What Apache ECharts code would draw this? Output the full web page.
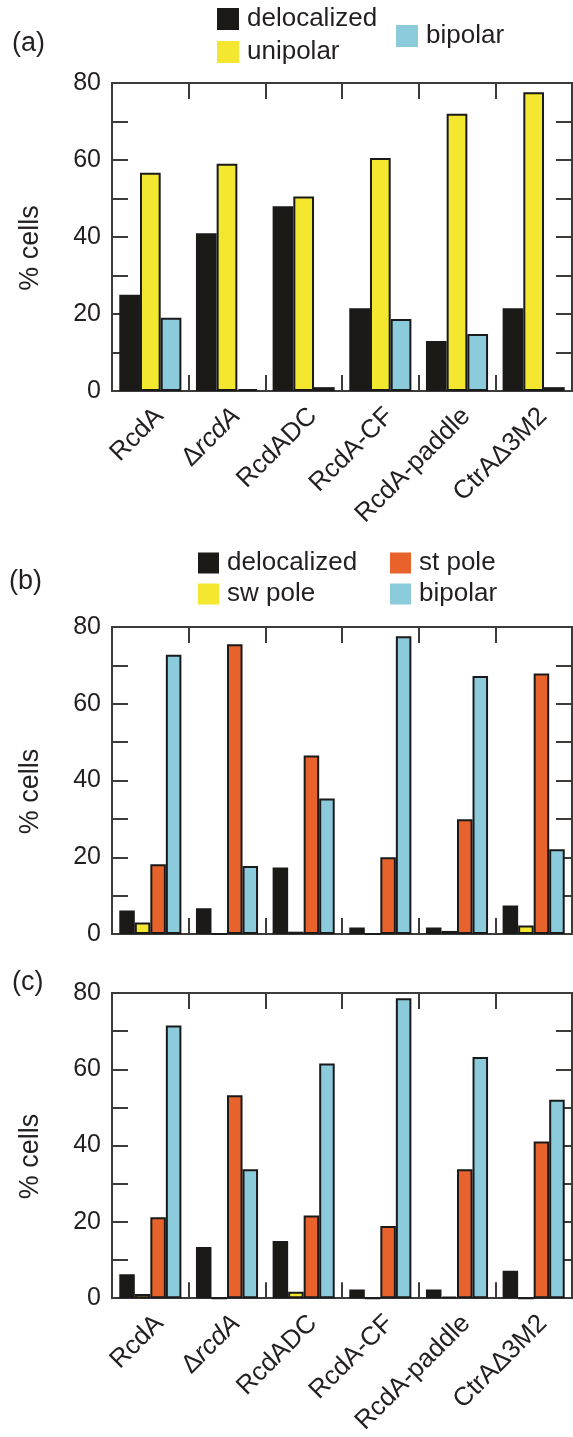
<!DOCTYPE html>
<html>
<head>
<meta charset="utf-8">
<script src="https://cdn.jsdelivr.net/npm/echarts@6/dist/echarts.min.js"></script>
<style>
  html, body { margin: 0; padding: 0; background: #fff; }
  #chart { width: 573px; height: 1437px; }
</style>
</head>
<body>
<div id="chart"></div>
<script>
const categories = ['RcdA', 'ΔrcdA', 'RcdADC', 'RcdA-CF', 'RcdA-paddle', 'CtrAΔ3M2'];
const yTicks = [0, 20, 40, 60, 80];

// panel (a)
const aDelocalized = [25, 41, 48, 21.5, 13, 21.5];
const aUnipolar = [56.7, 59, 50.5, 60.5, 72, 77.6];
const aBipolar = [19, 0.5, 1, 18.7, 14.8, 1];

// panel (b)
const bDelocalized = [6.1, 6.7, 17.3, 1.7, 1.7, 7.4];
const bSwPole = [3, 0, 0.6, 0, 0.8, 2.2];
const bStPole = [18.2, 75.5, 46.5, 20, 29.9, 67.9];
const bBipolar = [72.8, 17.7, 35.3, 77.6, 67.2, 22.1];

// panel (c)
const cDelocalized = [6.3, 13.4, 15, 2.3, 2.3, 7.2];
const cSwPole = [1.1, 0, 1.7, 0, 0.4, 0];
const cStPole = [21.2, 53.2, 21.7, 18.9, 33.8, 41.1];
const cBipolar = [71.5, 33.8, 61.5, 78.6, 63.2, 52];

const FONT = '"Liberation Sans", Arial, sans-serif';
const TXT = '#231f20';
const AX = '#3d3a3a';
const colors = {
    'delocalized': '#1c1a17',
    'unipolar': '#f4e72f',
    'sw pole': '#f4e72f',
    'st pole': '#e8632c',
    'bipolar': '#8ccbdc'
};

const grids = [
    {left: 112, top: 83, width: 460, height: 308},
    {left: 112, top: 627, width: 460, height: 307},
    {left: 112, top: 993, width: 460, height: 308}
];

const line = () => ({show: true, onZero: false, lineStyle: {color: AX, width: 2}});
const tick = () => ({show: true, inside: true, interval: 0, length: 16, lineStyle: {color: AX, width: 2}});
const xAxis = [];
const yAxis = [];
grids.forEach((g, i) => {
    const showLabels = i !== 1;
    xAxis.push({
        type: 'category', gridIndex: i, data: categories, position: 'bottom',
        axisLine: line(), axisTick: tick(),
        axisLabel: {
            show: showLabels, interval: 0, rotate: 45, margin: 12,
            verticalAlign: 'top',
            fontSize: 26, fontFamily: FONT, color: TXT,
            formatter: v => v === 'ΔrcdA' ? '{n|Δ}{i|rcdA}' : v,
            rich: {
                n: {fontSize: 26, fontFamily: FONT, color: TXT},
                i: {fontSize: 26, fontFamily: FONT, color: TXT, fontStyle: 'italic'}
            }
        }
    });
    xAxis.push({
        type: 'category', gridIndex: i, data: categories, position: 'top',
        axisLine: line(), axisTick: tick(),
        axisLabel: {show: false, interval: 0}
    });
    yAxis.push({
        type: 'value', gridIndex: i, min: 0, max: 80, interval: 10, position: 'left',
        axisLine: line(), splitLine: {show: false}, axisTick: tick(),
        axisLabel: {
            margin: 11, fontSize: 25, fontFamily: FONT, color: TXT,
            formatter: v => yTicks.includes(v) ? String(v) : ''
        },
        name: '% cells', nameLocation: 'middle', nameGap: 68,
        nameTextStyle: {fontSize: 27, fontFamily: FONT, color: TXT, padding: [0, 22, 0, 0]}
    });
    yAxis.push({
        type: 'value', gridIndex: i, min: 0, max: 80, interval: 10, position: 'right',
        axisLine: line(), splitLine: {show: false}, axisTick: tick(),
        axisLabel: {show: false}
    });
});

function bar(name, data, panel) {
    return {
        name, type: 'bar', data,
        xAxisIndex: panel * 2, yAxisIndex: panel * 2,
        barGap: 0, barCategoryGap: '19%',
        itemStyle: {color: colors[name], borderColor: '#1a1a1a', borderWidth: 2},
        emphasis: {disabled: true}
    };
}

const series = [
    bar('delocalized', aDelocalized, 0),
    bar('unipolar', aUnipolar, 0),
    bar('bipolar', aBipolar, 0),
    bar('delocalized', bDelocalized, 1),
    bar('sw pole', bSwPole, 1),
    bar('st pole', bStPole, 1),
    bar('bipolar', bBipolar, 1),
    bar('delocalized', cDelocalized, 2),
    bar('sw pole', cSwPole, 2),
    bar('st pole', cStPole, 2),
    bar('bipolar', cBipolar, 2)
];

function legend(names, left, top, itemSize, gap) {
    return {
        data: names, orient: 'vertical', left, top, padding: 0,
        itemWidth: itemSize, itemHeight: itemSize, itemGap: gap, icon: 'rect',
        selectedMode: false,
        itemStyle: {borderWidth: 0},
        textStyle: {fontSize: 26, fontFamily: FONT, color: TXT, padding: [0, 0, 0, 3]}
    };
}

function panelLabel(text, x, y) {
    return {
        type: 'text', left: x, top: y,
        style: {text, fontSize: 27, fontFamily: FONT, fill: TXT}
    };
}

const chart = echarts.init(document.getElementById('chart'));
chart.setOption({
    animation: false,
    grid: grids,
    xAxis, yAxis, series,
    legend: [
        legend(['delocalized', 'unipolar'], 217, 6, 22, 7),
        legend(['bipolar'], 396, 23, 22, 7),
        legend(['delocalized', 'sw pole'], 198, 550, 21, 5),
        legend(['st pole', 'bipolar'], 390, 550, 21, 5)
    ],
    graphic: [
        panelLabel('(a)', 12, 30),
        panelLabel('(b)', 9, 568),
        panelLabel('(c)', 12, 969)
    ]
});
</script>
</body>
</html>
